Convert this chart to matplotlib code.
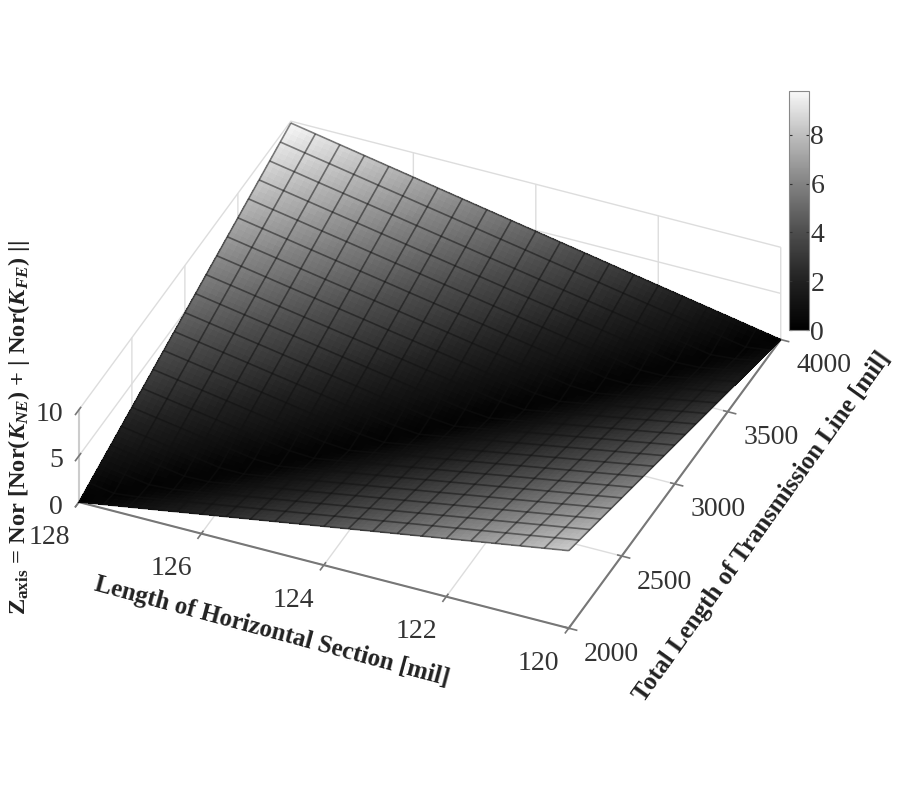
import numpy as np
import matplotlib
matplotlib.use('Agg')
import matplotlib.pyplot as plt
from matplotlib.colors import LinearSegmentedColormap
from mpl_toolkits.mplot3d import proj3d

plt.rcParams['font.family'] = ['Liberation Serif', 'DejaVu Serif']
plt.rcParams['mathtext.fontset'] = 'custom'
plt.rcParams['mathtext.rm'] = 'Liberation Serif:bold'
plt.rcParams['mathtext.it'] = 'Liberation Serif:italic:bold'
plt.rcParams['mathtext.bf'] = 'Liberation Serif:bold'

horiz_len = [128.0, 127.6, 127.2, 126.8, 126.4, 126.0, 125.6, 125.2, 124.8, 124.4, 124.0,
             123.6, 123.2, 122.8, 122.4, 122.0, 121.6, 121.2, 120.8, 120.4, 120.0]
total_len = [2000, 2100, 2200, 2300, 2400, 2500, 2600, 2700, 2800, 2900, 3000,
             3100, 3200, 3300, 3400, 3500, 3600, 3700, 3800, 3900, 4000]
# one row per total length, one column per horizontal length
z_rows = [
    [0.00, 0.42, 0.84, 1.26, 1.68, 2.10, 2.52, 2.94, 3.36, 3.78, 4.20, 4.62, 5.04, 5.46, 5.88, 6.30, 6.72, 7.14, 7.56, 7.98, 8.40],
    [0.49, 0.07, 0.36, 0.78, 1.20, 1.63, 2.05, 2.47, 2.90, 3.32, 3.75, 4.17, 4.59, 5.02, 5.44, 5.86, 6.29, 6.71, 7.13, 7.56, 7.98],
    [0.98, 0.55, 0.13, 0.30, 0.73, 1.16, 1.58, 2.01, 2.44, 2.86, 3.29, 3.72, 4.14, 4.57, 5.00, 5.43, 5.85, 6.28, 6.71, 7.13, 7.56],
    [1.47, 1.04, 0.61, 0.18, 0.25, 0.68, 1.11, 1.54, 1.97, 2.41, 2.84, 3.27, 3.70, 4.13, 4.56, 4.99, 5.42, 5.85, 6.28, 6.71, 7.14],
    [1.96, 1.53, 1.09, 0.66, 0.22, 0.21, 0.64, 1.08, 1.51, 1.95, 2.38, 2.81, 3.25, 3.68, 4.12, 4.55, 4.98, 5.42, 5.85, 6.29, 6.72],
    [2.45, 2.01, 1.58, 1.14, 0.70, 0.26, 0.18, 0.61, 1.05, 1.49, 1.93, 2.36, 2.80, 3.24, 3.68, 4.11, 4.55, 4.99, 5.43, 5.86, 6.30],
    [2.94, 2.50, 2.06, 1.62, 1.18, 0.74, 0.29, 0.15, 0.59, 1.03, 1.47, 1.91, 2.35, 2.79, 3.23, 3.68, 4.12, 4.56, 5.00, 5.44, 5.88],
    [3.43, 2.99, 2.54, 2.10, 1.65, 1.21, 0.76, 0.32, 0.13, 0.57, 1.02, 1.46, 1.90, 2.35, 2.79, 3.24, 3.68, 4.13, 4.57, 5.02, 5.46],
    [3.92, 3.47, 3.02, 2.58, 2.13, 1.68, 1.23, 0.78, 0.34, 0.11, 0.56, 1.01, 1.46, 1.90, 2.35, 2.80, 3.25, 3.70, 4.14, 4.59, 5.04],
    [4.41, 3.96, 3.51, 3.06, 2.60, 2.15, 1.70, 1.25, 0.80, 0.35, 0.11, 0.56, 1.01, 1.46, 1.91, 2.36, 2.81, 3.27, 3.72, 4.17, 4.62],
    [4.90, 4.45, 3.99, 3.54, 3.08, 2.63, 2.17, 1.72, 1.26, 0.81, 0.35, 0.11, 0.56, 1.02, 1.47, 1.93, 2.38, 2.84, 3.29, 3.75, 4.20],
    [5.39, 4.93, 4.47, 4.02, 3.56, 3.10, 2.64, 2.18, 1.72, 1.26, 0.81, 0.35, 0.11, 0.57, 1.03, 1.49, 1.95, 2.41, 2.86, 3.32, 3.78],
    [5.88, 5.42, 4.96, 4.49, 4.03, 3.57, 3.11, 2.65, 2.18, 1.72, 1.26, 0.80, 0.34, 0.13, 0.59, 1.05, 1.51, 1.97, 2.44, 2.90, 3.36],
    [6.37, 5.91, 5.44, 4.97, 4.51, 4.04, 3.58, 3.11, 2.65, 2.18, 1.72, 1.25, 0.78, 0.32, 0.15, 0.61, 1.08, 1.54, 2.01, 2.48, 2.94],
    [6.86, 6.39, 5.92, 5.45, 4.98, 4.52, 4.05, 3.58, 3.11, 2.64, 2.17, 1.70, 1.23, 0.76, 0.29, 0.18, 0.64, 1.11, 1.58, 2.05, 2.52],
    [7.35, 6.88, 6.41, 5.93, 5.46, 4.99, 4.52, 4.04, 3.57, 3.10, 2.63, 2.15, 1.68, 1.21, 0.74, 0.26, 0.21, 0.68, 1.16, 1.63, 2.10],
    [7.84, 7.36, 6.89, 6.41, 5.94, 5.46, 4.98, 4.51, 4.03, 3.56, 3.08, 2.60, 2.13, 1.65, 1.18, 0.70, 0.22, 0.25, 0.73, 1.20, 1.68],
    [8.33, 7.85, 7.37, 6.89, 6.41, 5.93, 5.45, 4.97, 4.49, 4.02, 3.54, 3.06, 2.58, 2.10, 1.62, 1.14, 0.66, 0.18, 0.30, 0.78, 1.26],
    [8.82, 8.34, 7.85, 7.37, 6.89, 6.41, 5.92, 5.44, 4.96, 4.47, 3.99, 3.51, 3.02, 2.54, 2.06, 1.58, 1.09, 0.61, 0.13, 0.36, 0.84],
    [9.31, 8.82, 8.34, 7.85, 7.36, 6.88, 6.39, 5.91, 5.42, 4.93, 4.45, 3.96, 3.47, 2.99, 2.50, 2.01, 1.53, 1.04, 0.55, 0.07, 0.42],
    [9.80, 9.31, 8.82, 8.33, 7.84, 7.35, 6.86, 6.37, 5.88, 5.39, 4.90, 4.41, 3.92, 3.43, 2.94, 2.45, 1.96, 1.47, 0.98, 0.49, 0.00],
]
x_ticks = [128, 126, 124, 122, 120]
y_ticks = [2000, 2500, 3000, 3500, 4000]
z_ticks = [0, 5, 10]
cbar_ticks = [0, 2, 4, 6, 8]
# grey levels
cmap_levels = [(0.0, '#000000'), (2 / 9.8, '#212121'), (4 / 9.8, '#4d4d4d'), (6 / 9.8, '#828282'),
               (8 / 9.8, '#bebebe'), (1.0, '#f8f8f8')]


def refine(arr, n):
    """Subdivide a grid along both directions, only to get smooth (interp like) shading"""
    nrow, ncol = arr.shape
    rowgrid = np.linspace(0, nrow - 1, (nrow - 1) * n + 1)
    colgrid = np.linspace(0, ncol - 1, (ncol - 1) * n + 1)
    tmp = np.array([np.interp(colgrid, np.arange(ncol), r) for r in arr])
    return np.array([np.interp(rowgrid, np.arange(nrow), c) for c in tmp.T]).T


def tick_label(ax, pos, text, dx, dy, ha='center'):
    """Write a tick label at an offset in pixels from the tick on the 3d axes"""
    px, py, _ = proj3d.proj_transform(pos[0], pos[1], pos[2], ax.get_proj())
    ax.annotate(text, (px, py), xytext=(dx, dy), textcoords='offset pixels', fontsize=20, color='#333333',
                ha=ha, va='center', annotation_clip=False)


X, Y = np.meshgrid(horiz_len, total_len)
Z = np.array(z_rows)
cmap = LinearSegmentedColormap.from_list('surf_gray', cmap_levels)

fig = plt.figure(figsize=(9, 8), dpi=100)
ax = fig.add_axes([-31 / 900, 14.5 / 800, 1.0, 1.0], projection='3d', computed_zorder=False)
ax.set_proj_type('ortho')
ax.view_init(elev=36.3, azim=-66.5)
ax.set_box_aspect((536.5, 534, 115), zoom=0.925)
ax.set_xlim(128, 120, view_margin=0)
ax.set_ylim(2000, 4000, view_margin=0)
ax.set_zlim(0, 10, view_margin=0)

surf = ax.plot_surface(refine(X, 4), refine(Y, 4), refine(Z, 4), rstride=1, cstride=1,
                       cmap=cmap, vmin=0, vmax=9.8, linewidth=0, antialiased=False, zorder=1)
ax.plot_wireframe(X, Y, Z, rstride=1, cstride=1, color='#111111', alpha=0.5, linewidth=1.2, zorder=2)

for axis in (ax.xaxis, ax.yaxis, ax.zaxis):
    axis.set_pane_color((1, 1, 1, 0))
    axis.pane.set_edgecolor('#dddddd')
    axis.line.set_color('#777777')
    axis.line.set_linewidth(1.5)
    axis._axinfo['grid']['color'] = '#dddddd'
    axis._axinfo['grid']['linewidth'] = 1.0
    axis._axinfo['tick']['linewidth'] = {True: 1.2, False: 1.2}
ax.zaxis.line.set_color('#cccccc')
ax.zaxis.set_ticks_position('lower')

ax.set_xticks(x_ticks)
ax.set_yticks(y_ticks)
ax.set_zticks(z_ticks)
ax.set_xticklabels([])
ax.set_yticklabels([])
ax.set_zticklabels([])
ax.tick_params(color='#777777')
for t in x_ticks:
    tick_label(ax, (t, 2000, 0), str(t), -30, -35)
for t in y_ticks:
    tick_label(ax, (120, t, 0), str(t), 43, -26)
for t in z_ticks:
    tick_label(ax, (128, 2000, t), str(t), -16, -5, ha='right')

fig.text(272 / 900, 1 - 632 / 800, 'Length of Horizontal Section [mil]', fontsize=18, fontweight='bold',
         rotation=-15.1, rotation_mode='anchor', ha='center', va='center', color='#222222')
fig.text(762 / 900, 1 - 527 / 800, 'Total Length of Transmission Line [mil]', fontsize=18, fontweight='bold',
         rotation=54.4, rotation_mode='anchor', ha='center', va='center', color='#222222')
fig.text(19 / 900, 1 - 428 / 800, r'$\mathrm{Z}_{\mathrm{axis}}$ = Nor [Nor($K_{NE}$) + | Nor($K_{FE}$) ||',
         fontsize=17.6, fontweight='bold', rotation=90, ha='center', va='center', color='#222222')

cax = fig.add_axes([789 / 900, 1 - 330 / 800, 20 / 900, 239 / 800])
cbar = fig.colorbar(surf, cax=cax, ticks=cbar_ticks)
cbar.outline.set_edgecolor('#888888')
cbar.ax.tick_params(labelsize=20, colors='#333333', length=2, direction='in', pad=1, left=True, right=True)

plt.savefig('out.png', dpi=100)
